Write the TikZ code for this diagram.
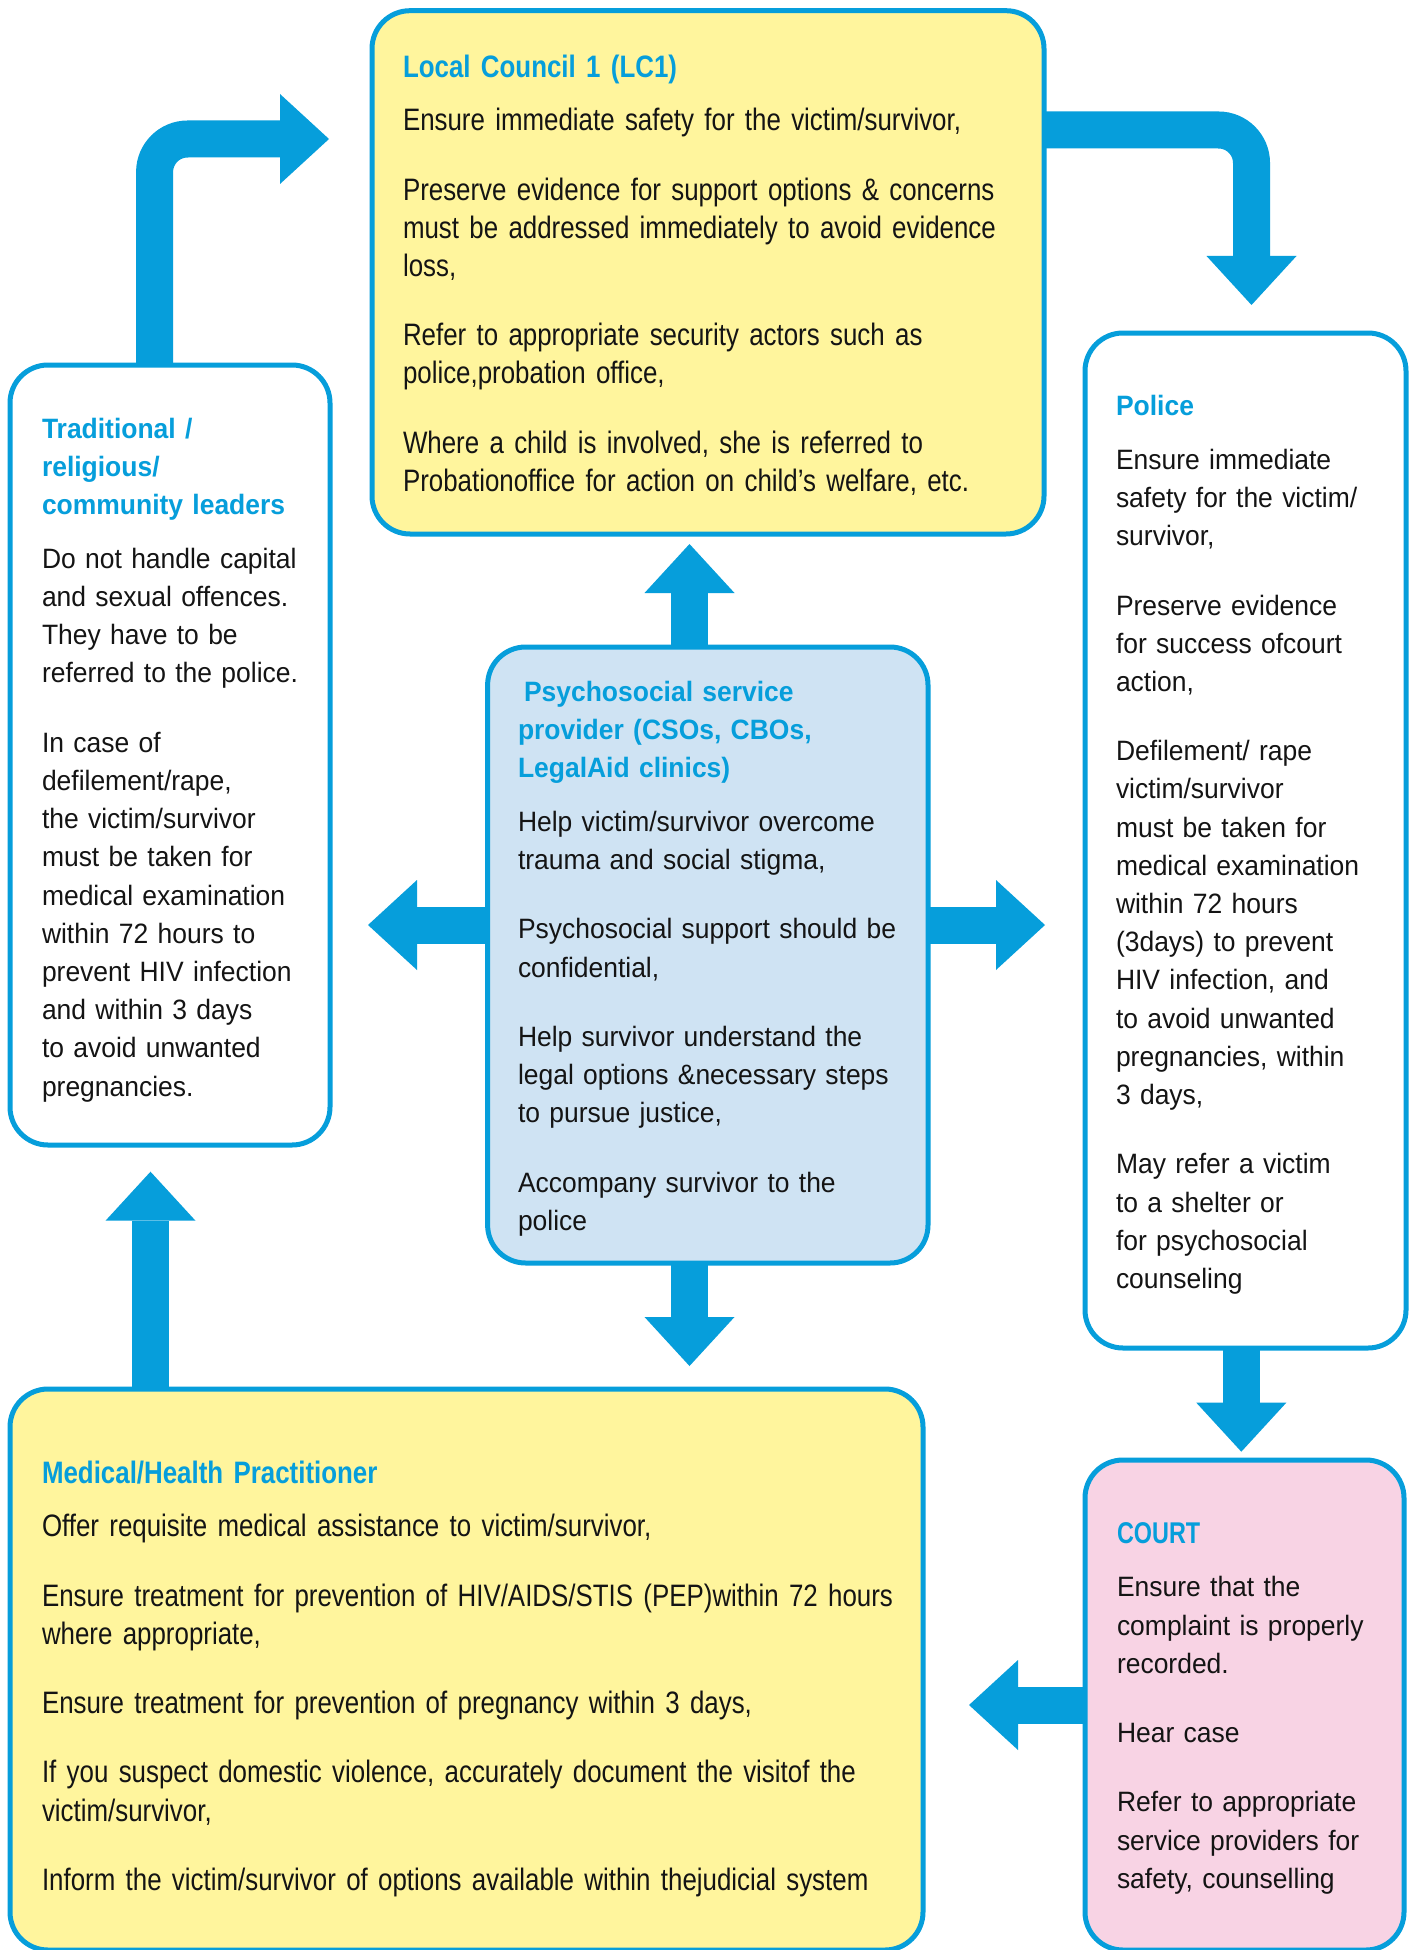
\documentclass[tikz,border=0pt]{standalone}
\usepackage{fontspec}
\setmainfont{Liberation Sans}
\newfontfamily\nfont[FakeStretch=0.945]{Liberation Sans}
\newfontfamily\cfont[FakeStretch=0.835]{Liberation Sans}
\newfontfamily\ccfont[FakeStretch=0.78]{Liberation Sans}
\usetikzlibrary{arrows.meta}
\definecolor{ablue}{RGB}{6,158,219}
\definecolor{yel}{RGB}{255,245,157}
\definecolor{lblue}{RGB}{207,227,243}
\definecolor{cpink}{RGB}{248,211,228}
\definecolor{ink}{RGB}{20,20,20}
\newcommand{\parbrk}{\\[31.1pt]}
\newcommand{\titbrk}{\\[15.3pt]}
\newcommand{\ttl}[1]{{\color{ablue}\bfseries #1}}
\newcommand{\nfsel}{\nfont\fontsize{28}{38.2}\selectfont}
\newcommand{\cfsel}{\cfont\fontsize{31}{38.2}\selectfont}
\begin{document}
\begin{tikzpicture}[x=1pt,y=-1pt,
  box/.style={draw=ablue, line width=5pt, rounded corners=38pt, inner sep=0pt, outer sep=0pt},
  txt/.style={anchor=north west, inner sep=0pt, outer sep=0pt, align=left, text=ink,
    font=\nfsel},
  ctxt/.style={txt, font=\cfsel},
  fat/.style={draw=ablue, line width=37pt,
    -{Triangle[length=49pt,width=90pt,line width=0pt]}}
]
\useasboundingbox (0,0) rectangle (1413,1950);
\fill[white] (0,0) rectangle (1413,1950);

% boxes
\node[box, fill=yel, minimum width=672, minimum height=523.3] (lc1) at (708,272.35) {};
\node[box, fill=white, minimum width=320, minimum height=780] (trad) at (170,755) {};
\node[box, fill=lblue, minimum width=440.4, minimum height=616] (psych) at (707.8,955) {};
\node[box, fill=white, minimum width=321, minimum height=1015] (police) at (1245.5,840.5) {};
\node[box, fill=yel, minimum width=913, minimum height=561] (medical) at (466.5,1669.5) {};
\node[box, fill=cpink, minimum width=319, minimum height=490] (court) at (1244.5,1705) {};

% arrow tips
\coordinate (tipLC) at (329,139);
\coordinate (tipPol) at (1251.5,305);
\coordinate (tipUp) at (689.5,544);
\coordinate (tipL) at (368,925);
\coordinate (tipR) at (1045,925);
\coordinate (tipDn) at (689.5,1366);
\coordinate (tipTr) at (150.5,1171.7);
\coordinate (tipCt) at (1241.3,1451.7);
\coordinate (tipMd) at (969,1705);

% arrows
\draw[fat, rounded corners=33pt] ([xshift=-15.4pt]trad.north) |- (tipLC);
\draw[fat, rounded corners=33pt] ([yshift=-119.3pt]lc1.north east) -| (tipPol);
\draw[fat] ([xshift=-18.3pt]psych.north) -- (tipUp);
\draw[fat] ([yshift=30pt]psych.west) -- (tipL);
\draw[fat] ([yshift=30pt]psych.east) -- (tipR);
\draw[fat] ([xshift=-18.3pt]psych.south) -- (tipDn);
\draw[fat] ([xshift=-316pt]medical.north) -- (tipTr);
\draw[fat] ([xshift=-4.2pt]police.south) -- (tipCt);
\draw[fat] (court.west) -- (tipMd);

% texts
\node[ctxt, text width=640] (lc1t) at (403,50.5) {\strut\ttl{Local Council 1 (LC1)}\titbrk
Ensure immediate safety for the victim/survivor,\parbrk
Preserve evidence for support options \& concerns\\
must be addressed immediately to avoid evidence\\
loss,\parbrk
Refer to appropriate security actors such as\\
police,probation office,\parbrk
Where a child is involved, she is referred to\\
Probationoffice for action on child’s welfare, etc.};

\node[txt, text width=285] (tradt) at (42,411.7) {\strut\ttl{Traditional /}\\
\ttl{religious/}\\
\ttl{community leaders}\titbrk
Do not handle capital\\
and sexual offences.\\
They have to be\\
referred to the police.\parbrk
In case of\\
defilement/rape,\\
the victim/survivor\\
must be taken for\\
medical examination\\
within 72 hours to\\
prevent HIV infection\\
and within 3 days\\
to avoid unwanted\\
pregnancies.};

\node[txt, text width=405] (psycht) at (518,674.8) {\strut\hspace*{6pt}\ttl{Psychosocial service}\\
\ttl{provider (CSOs, CBOs,}\\
\ttl{LegalAid clinics)}\titbrk
Help victim/survivor overcome\\
trauma and social stigma,\parbrk
Psychosocial support should be\\
confidential,\parbrk
Help survivor understand the\\
legal options \&necessary steps\\
to pursue justice,\parbrk
Accompany survivor to the\\
police};

\node[txt, text width=285] (policet) at (1116,389.1) {\strut\ttl{Police}\titbrk
Ensure immediate\\
safety for the victim/\\
survivor,\parbrk
Preserve evidence\\
for success ofcourt\\
action,\parbrk
Defilement/ rape\\
victim/survivor\\
must be taken for\\
medical examination\\
within 72 hours\\
(3days) to prevent\\
HIV infection, and\\
to avoid unwanted\\
pregnancies, within\\
3 days,\parbrk
May refer a victim\\
to a shelter or\\
for psychosocial\\
counseling};

\node[ctxt, text width=900] (medicalt) at (42,1456.5) {\strut\ttl{Medical/Health Practitioner}\titbrk
Offer requisite medical assistance to victim/survivor,\parbrk
Ensure treatment for prevention of HIV/AIDS/STIS (PEP)within 72 hours\\
where appropriate,\parbrk
Ensure treatment for prevention of pregnancy within 3 days,\parbrk
If you suspect domestic violence, accurately document the visitof the\\
victim/survivor,\parbrk
Inform the victim/survivor of options available within thejudicial system};

\node[txt, text width=282] (courtt) at (1117,1516.6) {\strut{\ccfont\fontsize{30}{38.2}\selectfont\ttl{COURT}}\titbrk
Ensure that the\\
complaint is properly\\
recorded.\parbrk
Hear case\parbrk
Refer to appropriate\\
service providers for\\
safety, counselling};
\end{tikzpicture}
\end{document}
